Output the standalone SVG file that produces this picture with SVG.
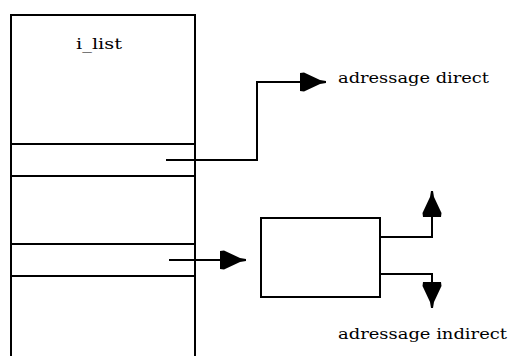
<svg xmlns="http://www.w3.org/2000/svg" width="508" height="356" viewBox="0 0 508 356">
<style>
.ln{fill:none;stroke:#000;stroke-width:2}
.tx{font-family:"DejaVu Serif","Liberation Serif",serif;font-size:15px;fill:#000}
</style>
<defs>
<marker id="ah" markerUnits="userSpaceOnUse" markerWidth="30" markerHeight="24" viewBox="-1 -11 30 22" refX="26" refY="0" orient="auto">
<path d="M0,-9 L4,-9.5 L20,-2 L26,-1 L26,1 L20,2 L4,9.5 L0,9 Z" fill="#000"/>
</marker>
</defs>
<rect width="508" height="356" fill="#fff"/>
<g id="i_list">
<polyline class="ln" points="11,360 11,15 195,15 195,360"/>
<line class="ln" x1="11" y1="144" x2="195" y2="144"/>
<line class="ln" x1="11" y1="176" x2="195" y2="176"/>
<line class="ln" x1="11" y1="244" x2="195" y2="244"/>
<line class="ln" x1="11" y1="276" x2="195" y2="276"/>
<text class="tx" x="76" y="49" textLength="46" lengthAdjust="spacingAndGlyphs">i_list</text>
</g>
<g id="block">
<rect class="ln" x="261" y="218" width="119" height="79"/>
</g>
<g id="labels">
<text class="tx" x="338" y="83" textLength="151" lengthAdjust="spacingAndGlyphs">adressage direct</text>
<text class="tx" x="338" y="339" textLength="169" lengthAdjust="spacingAndGlyphs">adressage indirect</text>
</g>
<g id="connectors">
<path class="ln" d="M166,160 H257 V82 H326" marker-end="url(#ah)"/>
<path class="ln" d="M169,260 H246" marker-end="url(#ah)"/>
<path class="ln" d="M380,237 H432 V191" marker-end="url(#ah)"/>
<path class="ln" d="M380,274 H432 V308" marker-end="url(#ah)"/>
</g>
</svg>
